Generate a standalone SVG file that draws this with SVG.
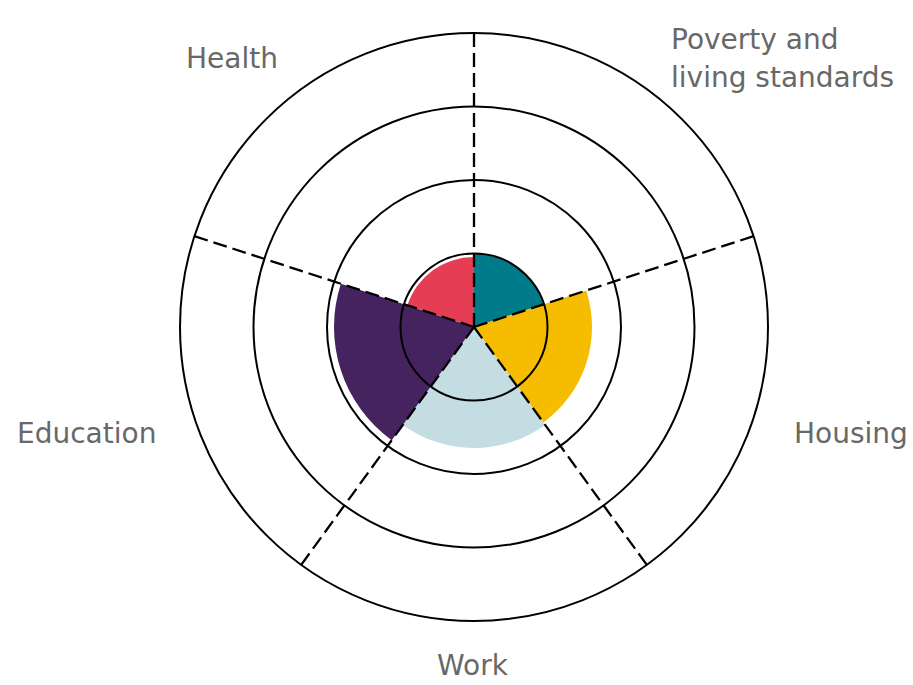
<svg xmlns="http://www.w3.org/2000/svg" width="913" height="685" viewBox="0 0 913 685">
<style>
.ring{fill:none;stroke:#000;stroke-width:2}
.axis{stroke:#000;stroke-width:2.3;stroke-dasharray:14 6}
.lbl{font-family:"DejaVu Sans",Verdana,sans-serif;font-size:28px;fill:#686868}
</style>
<rect width="913" height="685" fill="#fff"/>
<g id="sectors">
<path id="poverty-sector" d="M474 327 L474 254 A73 73 0 0 1 543.43 304.44 Z" fill="#007B8A"/>
<path id="housing-sector" d="M474 327 L586.23 290.54 A118 118 0 0 1 543.36 422.46 Z" fill="#F6BD00"/>
<path id="work-sector" d="M474 327 L545.12 424.89 A121 121 0 0 1 402.88 424.89 Z" fill="#C3DDE3"/>
<path id="education-sector" d="M474 327 L391.71 440.26 A140 140 0 0 1 340.85 283.74 Z" fill="#45235F"/>
<path id="health-sector" d="M474 327 L407.42 305.37 A70 70 0 0 1 474 257 Z" fill="#E43D54"/>
</g>
<g id="rings">
<circle class="ring" cx="474" cy="327" r="73.5"/>
<circle class="ring" cx="474" cy="327" r="147"/>
<circle class="ring" cx="474" cy="327" r="220.5"/>
<circle class="ring" cx="474" cy="327" r="294"/>
</g>
<g id="connectors">
<line class="axis" x1="474" y1="327" x2="474" y2="33"/>
<line class="axis" x1="474" y1="327" x2="753.62" y2="236.15"/>
<line class="axis" x1="474" y1="327" x2="646.81" y2="564.85"/>
<line class="axis" x1="474" y1="327" x2="301.19" y2="564.85"/>
<line class="axis" x1="474" y1="327" x2="194.38" y2="236.15"/>
</g>
<g id="health"><text class="lbl" x="186" y="68">Health</text></g>
<g id="poverty"><text class="lbl" x="671" y="49">Poverty and</text><text class="lbl" x="671" y="87">living standards</text></g>
<g id="housing"><text class="lbl" x="794" y="443">Housing</text></g>
<g id="work"><text class="lbl" x="437" y="675">Work</text></g>
<g id="education"><text class="lbl" x="17" y="443">Education</text></g>
</svg>
